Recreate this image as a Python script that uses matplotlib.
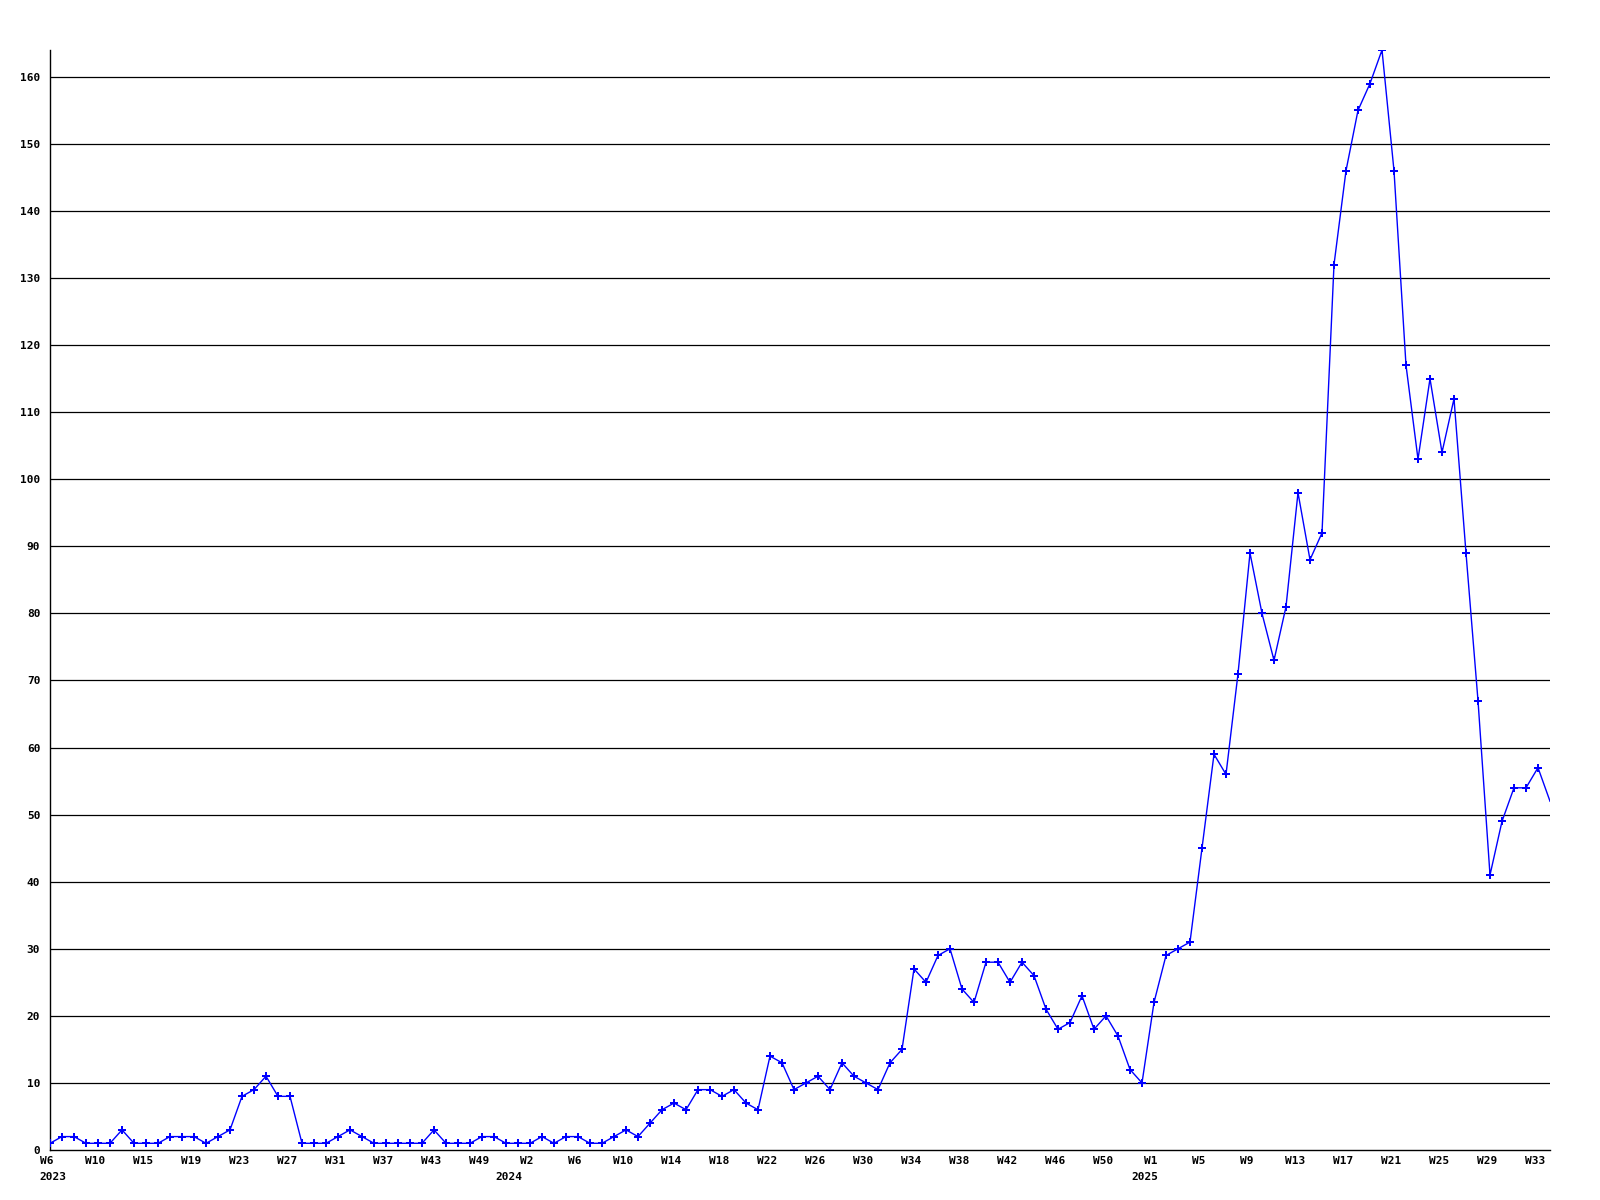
import matplotlib
matplotlib.use("Agg")
import matplotlib.pyplot as plt
import matplotlib.transforms as mtransforms

# --- datos semanales (W6 2023 ... W34 2025) ---
valores = [
    1, 2, 2, 1, 1, 1, 3, 1, 1, 1, 2, 2, 2, 1, 2, 3, 8, 9, 11, 8,
    8, 1, 1, 1, 2, 3, 2, 1, 1, 1, 1, 1, 3, 1, 1, 1, 2, 2, 1, 1,
    1, 2, 1, 2, 2, 1, 1, 2, 3, 2, 4, 6, 7, 6, 9, 9, 8, 9, 7, 6,
    14, 13, 9, 10, 11, 9, 13, 11, 10, 9, 13, 15, 27, 25, 29, 30, 24, 22, 28, 28,
    25, 28, 26, 21, 18, 19, 23, 18, 20, 17, 12, 10, 22, 29, 30, 31, 45, 59, 56, 71,
    89, 80, 73, 81, 98, 88, 92, 132, 146, 155, 159, 164, 146, 117, 103, 115, 104, 112, 89, 67,
    41, 49, 54, 54, 57, 52,
]

etiquetas_semana = [
    "W6", "W10", "W15", "W19", "W23", "W27", "W31", "W37", "W43", "W49", "W2",
    "W6", "W10", "W14", "W18", "W22", "W26", "W30", "W34", "W38", "W42", "W46",
    "W50", "W1", "W5", "W9", "W13", "W17", "W21", "W25", "W29", "W33",
]
paso_etiqueta = 4

anios = ["2023", "2024", "2025"]
anio_indice = [0, 38, 91]

yticks = list(range(0, 161, 10))

fuente = dict(family="DejaVu Sans Mono", weight="bold", size=8)

fig = plt.figure(figsize=(16, 12), dpi=100)
ax = fig.add_axes([50 / 1600, 50 / 1200, 1500 / 1600, 1100 / 1200])

x = list(range(len(valores)))

# rejilla horizontal
for v in yticks[1:]:
    ax.axhline(v, color="black", linewidth=0.9, zorder=1)

# el último punto queda en el borde y no lleva marcador
ax.plot(x, valores, color="#0000ff", linewidth=1.0, marker="P",
        markersize=5.5, markeredgewidth=0, markevery=list(range(len(valores) - 1)),
        zorder=3, clip_on=True)

ax.set_xlim(0, len(valores) - 1)
ax.set_ylim(0, max(valores))

ax.set_yticks(yticks)
ax.set_yticklabels([str(v) for v in yticks], fontdict=fuente)
ax.set_xticks(list(range(0, len(etiquetas_semana) * paso_etiqueta, paso_etiqueta)))
ax.set_xticklabels(etiquetas_semana, fontdict=fuente)
ax.tick_params(axis="both", length=0)
ax.tick_params(axis="y", pad=7)
ax.tick_params(axis="x", pad=4)
desplaza = mtransforms.ScaledTranslation(-3 / 100, 0, fig.dpi_scale_trans)
for lbl in ax.get_xticklabels():
    lbl.set_transform(lbl.get_transform() + desplaza)

# años bajo el eje
trans = mtransforms.blended_transform_factory(ax.transData, ax.transAxes)
for anio, idx in zip(anios, anio_indice):
    ax.annotate(anio, xy=(idx, 0), xycoords=trans, xytext=(3, -27),
                textcoords="offset pixels", ha="center", va="center", **fuente)

for lado in ["top", "right"]:
    ax.spines[lado].set_visible(False)
for lado in ["left", "bottom"]:
    ax.spines[lado].set_color("black")
    ax.spines[lado].set_linewidth(1.0)
    ax.spines[lado].set_zorder(2)

fig.savefig("out.png", dpi=100, facecolor="white")
